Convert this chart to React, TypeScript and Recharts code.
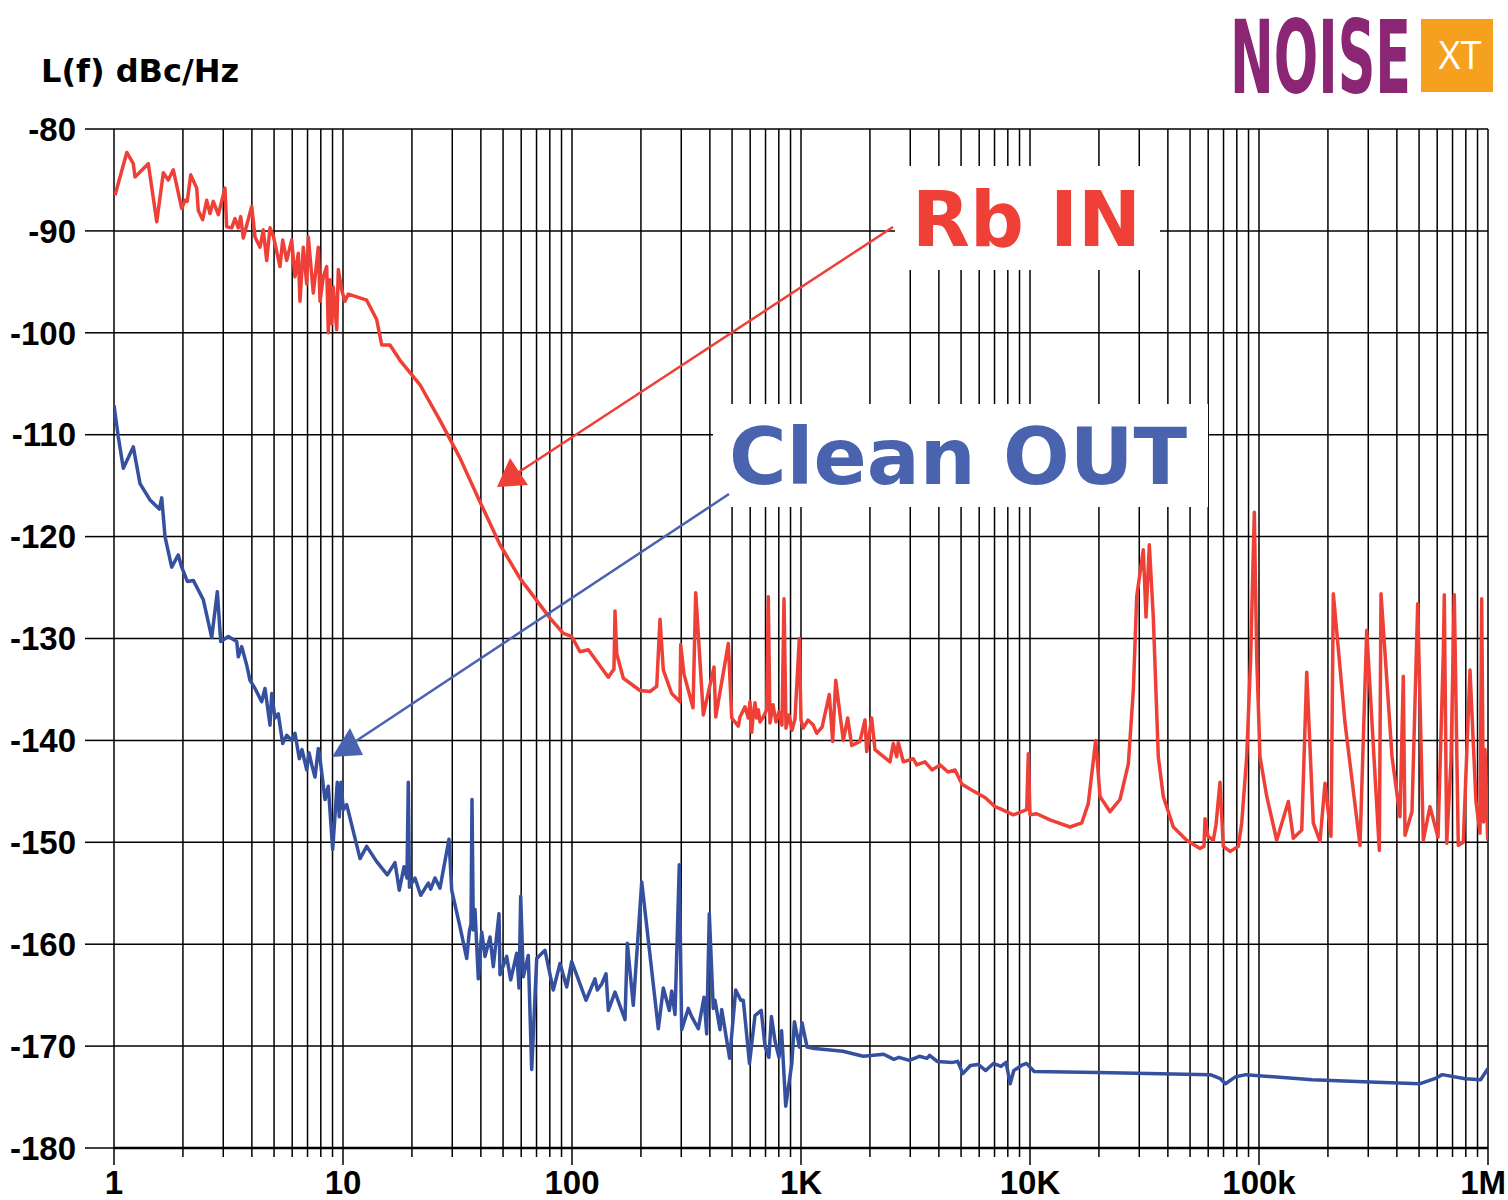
import React from 'react';
import { LineChart, Line, XAxis, YAxis, CartesianGrid } from 'recharts';

// Rb IN (red) phase noise, frequency in Hz and level in dBc/Hz
const rbInFreq = [
  1.01, 1.137, 1.214, 1.235, 1.412, 1.537, 1.642, 1.726, 1.815, 1.975,
  2.042, 2.089, 2.163, 2.297, 2.334, 2.439, 2.54, 2.626, 2.714, 2.855,
  3.052, 3.105, 3.266, 3.376, 3.49, 3.575, 3.669, 3.994, 4.129, 4.342,
  4.487, 4.643, 4.8, 4.962, 5.307, 5.453, 5.677, 5.97, 6.171, 6.379,
  6.489, 6.708, 6.942, 7.055, 7.42, 7.802, 7.937, 8.204, 8.488, 8.626,
  8.774, 8.927, 9.071, 9.387, 9.539, 9.87, 10.2, 10.55, 12.69, 14.03,
  14.76, 16.04, 17.74, 21.69, 26.52, 32.43, 39.66, 48.49, 59.29, 72.5,
  80.2, 91.6, 99.7, 108.4, 117.8, 144.1, 152.5, 154.1, 156.8, 167.5,
  198.1, 219.1, 234.4, 242.3, 250.5, 272.5, 296.2, 298.3, 308.4, 337.7,
  346.9, 374.5, 417.0, 424.2, 481.5, 498.3, 532.3, 541.5, 569.4, 588.6,
  598.8, 609.1, 619.0, 629.7, 640.6, 650.9, 662.2, 684.5, 708.3, 719.8,
  732.1, 754.6, 777.7, 801.5, 826.0, 842.9, 860.0, 886.3, 913.4, 941.4,
  983.0, 1000, 1023, 1073, 1131, 1171, 1236, 1329, 1375, 1418,
  1530, 1599, 1665, 1809, 1903, 1936, 2035, 2104, 2447, 2530,
  2618, 2660, 2797, 3093, 3201, 3479, 3734, 4046, 4385, 4706,
  5048, 5582, 6362, 7036, 7396, 8455, 9674, 9831, 10000, 10700,
  12230, 14950, 16820, 17970, 19360, 20220, 22360, 24720, 26880, 28260,
  29240, 31240, 32110, 33190, 34550, 36330, 38210, 42250, 48340, 55250,
  57520, 58100, 59880, 63150, 64890, 67550, 69830, 74700, 81220, 84050,
  88380, 92000, 95390, 97720, 101000, 108100, 119500, 134300, 141200, 153700,
  161600, 172600, 184700, 194200, 206300, 211100, 237500, 276100, 295400, 335300,
  341000, 380900, 412800, 426700, 434100, 465700, 493200, 521800, 558100, 604800,
  637900, 644400, 660200, 689300, 712500, 741800, 780000, 834300, 886100, 922600,
  938500, 955600, 970300, 997000,
];
const rbInLevel = [
  -86.5, -82.3, -83.4, -84.7, -83.4, -89.1, -84.3, -85.0, -84.0, -87.8,
  -87.0, -87.1, -84.5, -85.8, -88.0, -88.9, -87.0, -88.3, -87.1, -88.4,
  -85.8, -89.6, -89.7, -88.8, -89.7, -88.6, -90.7, -87.6, -90.6, -91.6,
  -89.9, -92.9, -89.7, -90.5, -93.5, -90.9, -92.9, -90.9, -94.5, -92.2,
  -96.9, -91.6, -95.2, -90.6, -96.1, -91.6, -96.9, -94.5, -93.5, -100.0,
  -94.8, -99.1, -95.5, -99.7, -93.8, -95.8, -96.9, -96.2, -96.8, -98.7,
  -101.2, -101.2, -102.7, -105.1, -108.6, -112.3, -116.6, -120.8, -124.1, -126.7,
  -128.0, -129.5, -129.8, -131.3, -131.1, -133.8, -133.0, -127.3, -131.5, -133.9,
  -135.1, -135.2, -134.7, -128.1, -133.1, -135.4, -136.2, -130.6, -133.5, -136.8,
  -125.5, -137.5, -132.8, -137.7, -130.5, -137.8, -138.6, -137.7, -136.7, -137.8,
  -136.2, -139.2, -137.4, -136.3, -137.8, -137.0, -138.2, -137.7, -137.0, -125.9,
  -138.3, -136.5, -138.2, -137.2, -138.5, -126.1, -138.8, -137.5, -139.0, -137.9,
  -130.0, -138.0, -138.8, -138.0, -138.5, -139.3, -138.7, -135.5, -140.1, -134.1,
  -140.0, -137.8, -140.5, -140.1, -138.0, -141.1, -137.8, -140.9, -142.1, -140.3,
  -141.6, -140.2, -142.1, -141.8, -142.4, -142.1, -142.9, -142.4, -143.1, -142.9,
  -144.3, -144.9, -145.6, -146.5, -146.7, -147.3, -146.8, -141.3, -147.3, -147.2,
  -147.8, -148.5, -148.1, -146.2, -140.0, -145.5, -147.0, -145.8, -142.3, -135.1,
  -125.9, -121.3, -127.9, -120.8, -127.9, -141.6, -145.5, -148.5, -149.8, -150.6,
  -150.4, -147.7, -149.4, -149.8, -148.3, -144.1, -150.4, -150.9, -150.4, -148.1,
  -141.6, -131.8, -117.6, -131.8, -141.6, -145.5, -149.8, -146.0, -149.6, -148.8,
  -133.3, -148.1, -149.9, -144.2, -149.4, -125.6, -138.3, -150.3, -129.2, -150.8,
  -125.6, -141.6, -147.5, -133.7, -149.3, -147.0, -126.6, -149.8, -146.5, -149.5,
  -131.6, -125.7, -150.1, -142.0, -125.7, -150.3, -150.0, -133.1, -146.0, -149.1,
  -126.1, -148.0, -140.9, -149.8,
];

// Clean OUT (blue)
const cleanOutFreq = [
  1.0, 1.044, 1.098, 1.214, 1.299, 1.436, 1.577, 1.616, 1.67, 1.786,
  1.909, 1.975, 2.09, 2.22, 2.455, 2.671, 2.826, 2.924, 3.156, 3.434,
  3.49, 3.611, 3.797, 3.925, 4.129, 4.416, 4.565, 4.8, 4.883, 5.048,
  5.218, 5.453, 5.677, 5.97, 6.171, 6.445, 6.622, 6.942, 7.105, 7.322,
  7.546, 7.802, 7.937, 8.346, 8.626, 9.016, 9.443, 9.634, 9.801, 10.03,
  10.38, 11.87, 12.69, 14.03, 15.61, 16.87, 17.61, 18.47, 19.03, 19.28,
  19.51, 20.63, 21.84, 23.58, 24.15, 25.22, 26.52, 29.03, 29.83, 32.43,
  34.69, 35.61, 36.22, 36.59, 37.07, 37.71, 38.98, 40.34, 41.7, 43.85,
  45.33, 48.0, 48.49, 51.86, 54.0, 57.36, 58.71, 59.7, 61.28, 64.45,
  66.68, 70.13, 76.23, 82.83, 88.62, 94.82, 99.7, 104.8, 115.1, 126.0,
  129.0, 134.8, 140.8, 144.1, 154.1, 170.4, 174.4, 185.2, 201.6, 238.2,
  250.5, 266.1, 272.5, 281.7, 294.1, 301.3, 322.0, 333.2, 356.1, 377.1,
  387.4, 397.7, 414.0, 421.1, 443.0, 450.6, 487.9, 518.6, 546.0, 559.8,
  595.8, 629.7, 670.3, 696.4, 724.2, 742.6, 770.0, 801.5, 822.8, 857.5,
  911.9, 935.9, 984.9, 1010, 1063, 1119, 1524, 1871, 2297, 2545,
  2679, 2969, 3289, 3549, 3643, 3933, 4592, 4834, 5089, 5492,
  5934, 6407, 6922, 7470, 7863, 8195, 8498, 9171, 9654, 10430,
  19820, 61230, 67820, 71400, 79130, 87690, 170800, 285400, 501800, 585200,
  631500, 795900, 928400, 1000000,
];
const cleanOutLevel = [
  -107.1, -110.2, -113.3, -111.2, -114.8, -116.4, -117.3, -116.2, -120.0, -123.0,
  -121.8, -123.0, -124.4, -124.3, -126.2, -129.9, -125.4, -130.3, -129.8, -130.3,
  -131.8, -130.8, -132.6, -134.1, -134.9, -136.2, -134.9, -138.5, -135.4, -137.8,
  -137.4, -140.3, -139.5, -140.0, -139.3, -141.8, -140.9, -142.9, -141.2, -142.5,
  -143.6, -140.8, -141.8, -145.8, -144.5, -150.7, -144.1, -147.5, -144.1, -146.8,
  -146.3, -151.6, -150.4, -151.9, -153.2, -152.0, -154.7, -152.4, -153.5, -144.1,
  -154.4, -153.5, -155.2, -154.0, -154.6, -153.5, -154.5, -149.7, -154.7, -158.3,
  -161.4, -158.8, -158.0, -145.8, -158.6, -156.6, -163.4, -158.8, -161.2, -159.3,
  -162.2, -157.0, -163.0, -161.2, -163.5, -160.9, -164.3, -155.3, -163.2, -161.1,
  -172.3, -161.4, -160.6, -164.5, -161.9, -164.2, -161.7, -163.0, -165.5, -163.4,
  -164.5, -163.9, -162.9, -166.5, -164.7, -167.4, -159.9, -166.0, -153.9, -168.3,
  -164.3, -166.5, -164.6, -166.9, -152.2, -168.4, -166.3, -167.1, -168.3, -165.2,
  -168.8, -157.0, -166.3, -165.5, -168.4, -166.4, -171.2, -164.5, -165.5, -165.5,
  -171.7, -167.0, -166.5, -170.0, -171.1, -167.1, -169.5, -171.1, -168.5, -175.9,
  -171.7, -167.6, -170.1, -167.7, -170.1, -170.2, -170.5, -171.0, -170.8, -171.3,
  -171.1, -171.4, -171.0, -171.2, -170.9, -171.5, -171.6, -171.5, -172.7, -171.9,
  -171.8, -172.4, -171.7, -172.0, -171.6, -173.7, -172.4, -171.9, -171.7, -172.5,
  -172.6, -172.8, -173.2, -173.7, -173.0, -172.8, -173.3, -173.5, -173.7, -173.2,
  -172.8, -173.2, -173.3, -172.2,
];

// axes
const decadeFreqs = [1, 10, 100, 1000, 10000, 100000, 1000000];
const decadeLabels = ['1', '10', '100', '1K', '10K', '100k', '1M'];
const gridMantissas = [1, 2, 3, 4, 5, 6, 7, 8, 9];
const levelTicks = [-180, -170, -160, -150, -140, -130, -120, -110, -100, -90, -80];

const gridFreqs = decadeFreqs.flatMap((d, i) =>
  i === decadeFreqs.length - 1 ? [d] : gridMantissas.map(m => m * d)
);

const rbIn = rbInFreq.map((f, i) => ({ f, v: rbInLevel[i] }));
const cleanOut = cleanOutFreq.map((f, i) => ({ f, v: cleanOutLevel[i] }));

const RED = '#ef4038';
const BLUE = '#35509f';
const LABEL_BLUE = '#4a63ae';
const NUM_FONT = '"Liberation Sans", Arial, sans-serif';
const BOLD_FONT = '"DejaVu Sans", sans-serif';

const FreqTick = (props: any) => {
  const { x, y, payload } = props;
  const idx = decadeFreqs.indexOf(payload.value);
  const isDecade = idx >= 0;
  const isLast = idx === decadeFreqs.length - 1;
  return (
    <g>
      <line x1={x} x2={x} y1={y} y2={y + (isDecade ? 17 : 9)} stroke="#000" strokeWidth={1.5} />
      {isDecade && (
        <text
          x={isLast ? x + 18 : x}
          y={y + 46}
          textAnchor={isLast ? 'end' : 'middle'}
          fill="#000"
          fontSize={33}
          fontWeight={700}
          fontFamily={NUM_FONT}
        >
          {decadeLabels[idx]}
        </text>
      )}
    </g>
  );
};

export default function App() {
  return (
    <div style={{ position: 'relative', width: 1508, height: 1200, background: '#fff', fontFamily: NUM_FONT }}>
      <style>{'body{margin:0}'}</style>
      <LineChart width={1508} height={1200} margin={{ top: 129, right: 20, bottom: 0, left: 0 }}>
        <CartesianGrid stroke="#000" strokeWidth={1.5} strokeOpacity={1} />
        <XAxis
          dataKey="f"
          type="number"
          scale="log"
          domain={[1, 1000000]}
          ticks={gridFreqs}
          interval={0}
          height={52}
          tickSize={0}
          tickMargin={0}
          tickLine={false}
          axisLine={{ stroke: '#000', strokeWidth: 2.5 }}
          tick={<FreqTick />}
          allowDataOverflow
        />
        <YAxis
          type="number"
          domain={[-180, -80]}
          ticks={levelTicks}
          interval={0}
          width={114}
          tickSize={29}
          tickMargin={9}
          axisLine={false}
          tickLine={{ stroke: '#000', strokeWidth: 1.5 }}
          tick={{ fill: '#000', fontSize: 33, fontWeight: 700, fontFamily: NUM_FONT }}
          allowDataOverflow
        />
        <Line
          data={rbIn}
          dataKey="v"
          type="linear"
          stroke={RED}
          strokeWidth={3.5}
          strokeLinejoin="round"
          dot={false}
          isAnimationActive={false}
        />
        <Line
          data={cleanOut}
          dataKey="v"
          type="linear"
          stroke={BLUE}
          strokeWidth={3.5}
          strokeLinejoin="round"
          dot={false}
          isAnimationActive={false}
        />
      </LineChart>
      <svg
        width={1508}
        height={1200}
        style={{ position: 'absolute', left: 0, top: 0, pointerEvents: 'none' }}
      >
        <text x={41} y={82} fill="#000" fontFamily={BOLD_FONT} fontWeight={700} fontSize={32}>
          L(f) dBc/Hz
        </text>

        {/* logo */}
        <text
          transform="translate(1230,93) scale(0.57,1)"
          fill="#8a2674"
          fontFamily='"DejaVu Sans Condensed", sans-serif'
          fontWeight={700}
          fontSize={102}
        >
          NOISE
        </text>
        <rect x={1421} y={19} width={72} height={73} fill="#f6a01f" />
        <text x={1460} y={69} textAnchor="middle" fill="#fff" fontFamily='"Open Sans", sans-serif' fontSize={38}>
          XT
        </text>

        {/* annotations */}
        <rect x={895} y={166} width={265} height={104} fill="#fff" />
        <text
          x={912}
          y={246}
          fill={RED}
          fontFamily={BOLD_FONT}
          fontWeight={700}
          fontSize={77}
          textLength={229}
          lengthAdjust="spacingAndGlyphs"
        >
          Rb IN
        </text>
        <line x1={893} y1={227} x2={519} y2={472} stroke={RED} strokeWidth={2.5} />
        <polygon points="510,458 497,487 528,485" fill={RED} />

        <rect x={713} y={404} width={495} height={103} fill="#fff" />
        <text
          x={729}
          y={484}
          fill={LABEL_BLUE}
          fontFamily={BOLD_FONT}
          fontWeight={700}
          fontSize={78}
          textLength={458}
          lengthAdjust="spacingAndGlyphs"
        >
          Clean OUT
        </text>
        <line x1={729} y1={494} x2={350} y2={745} stroke={LABEL_BLUE} strokeWidth={2.5} />
        <polygon points="350,728 332,757 363,755" fill={LABEL_BLUE} />
      </svg>
    </div>
  );
}
